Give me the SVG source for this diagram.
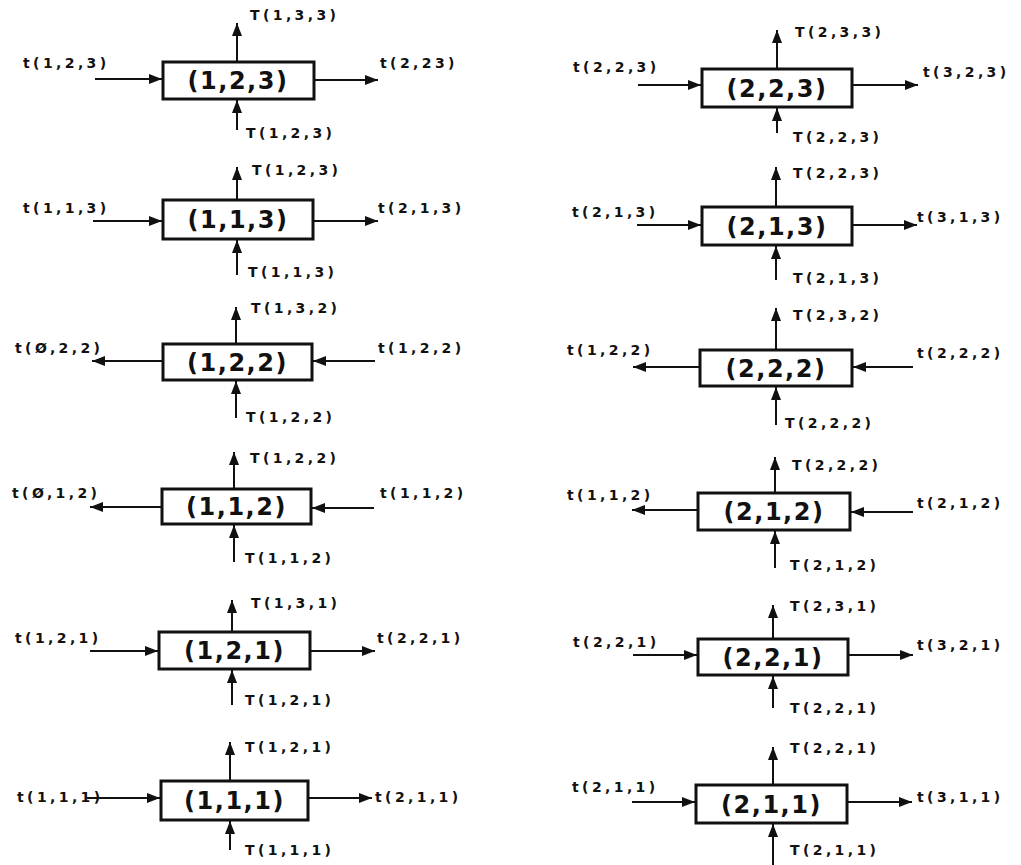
<svg xmlns="http://www.w3.org/2000/svg" width="1021" height="865" viewBox="0 0 1021 865">
<style>
.box{fill:#fff;stroke:#111;stroke-width:3}
.bt{font-family:"DejaVu Sans",sans-serif;font-weight:bold;font-size:24px;fill:#111;text-anchor:middle;letter-spacing:1.5px}
.lb{font-family:"DejaVu Sans",sans-serif;font-weight:bold;font-size:14px;fill:#111;letter-spacing:3.4px}
.c{fill:none;stroke:#111;stroke-width:2;marker-end:url(#ah)}
</style>
<defs>
<marker id="ah" markerUnits="userSpaceOnUse" markerWidth="13" markerHeight="10" refX="13" refY="5" orient="auto">
<path d="M0,0 L13,5 L0,10 z" fill="#111"/>
</marker>
</defs>
<rect width="1021" height="865" fill="#fff"/>
<g id="connectors">
<path class="c" d="M237,62 V23"/><path class="c" d="M237,130 V100"/><path class="c" d="M95,79 H162"/><path class="c" d="M314,80 H378"/>
<path class="c" d="M237,200 V167"/><path class="c" d="M237,275 V240"/><path class="c" d="M93,221 H162"/><path class="c" d="M313,221 H378"/>
<path class="c" d="M236,344 V307"/><path class="c" d="M236,418 V381"/><path class="c" d="M163,361 H92"/><path class="c" d="M375,361 H313"/>
<path class="c" d="M234,489 V452"/><path class="c" d="M234,562 V525"/><path class="c" d="M162,507 H90"/><path class="c" d="M374,508 H312"/>
<path class="c" d="M232,632 V600"/><path class="c" d="M232,705 V670"/><path class="c" d="M90,651 H158"/><path class="c" d="M310,651 H375"/>
<path class="c" d="M230,781 V742"/><path class="c" d="M230,850 V821"/><path class="c" d="M87,798 H160"/><path class="c" d="M308,798 H372"/>
<path class="c" d="M777,69 V30"/><path class="c" d="M777,133 V108"/><path class="c" d="M638,85 H701"/><path class="c" d="M852,85 H918"/>
<path class="c" d="M776,207 V167"/><path class="c" d="M776,280 V246"/><path class="c" d="M637,225 H701"/><path class="c" d="M852,225 H917"/>
<path class="c" d="M776,350 V308"/><path class="c" d="M776,425 V387"/><path class="c" d="M700,367 H633"/><path class="c" d="M913,367 H853"/>
<path class="c" d="M775,493 V457"/><path class="c" d="M775,568 V531"/><path class="c" d="M698,510 H632"/><path class="c" d="M913,512 H851"/>
<path class="c" d="M773,639 V605"/><path class="c" d="M773,708 V676"/><path class="c" d="M633,655 H697"/><path class="c" d="M848,655 H913"/>
<path class="c" d="M773,785 V747"/><path class="c" d="M773,865 V824"/><path class="c" d="M632,802 H695"/><path class="c" d="M847,802 H912"/>
</g>
<g id="n123"><rect class="box" x="163" y="62" width="151" height="37"/><text class="bt" x="238" y="89">(1,2,3)</text></g>
<g id="n113"><rect class="box" x="163" y="200" width="150" height="39"/><text class="bt" x="238" y="228">(1,1,3)</text></g>
<g id="n122"><rect class="box" x="163" y="344" width="149" height="36"/><text class="bt" x="237.5" y="370.5">(1,2,2)</text></g>
<g id="n112"><rect class="box" x="162" y="489" width="149" height="35"/><text class="bt" x="236.5" y="515">(1,1,2)</text></g>
<g id="n121"><rect class="box" x="159" y="632" width="151" height="37"/><text class="bt" x="234.5" y="659">(1,2,1)</text></g>
<g id="n111"><rect class="box" x="161" y="781" width="147" height="39"/><text class="bt" x="234.5" y="809">(1,1,1)</text></g>
<g id="n223"><rect class="box" x="702" y="69" width="150" height="38"/><text class="bt" x="777" y="96.5">(2,2,3)</text></g>
<g id="n213"><rect class="box" x="702" y="207" width="150" height="38"/><text class="bt" x="777" y="234.5">(2,1,3)</text></g>
<g id="n222"><rect class="box" x="700" y="350" width="152" height="36"/><text class="bt" x="776" y="376.5">(2,2,2)</text></g>
<g id="n212"><rect class="box" x="698" y="493" width="152" height="37"/><text class="bt" x="774" y="520">(2,1,2)</text></g>
<g id="n221"><rect class="box" x="698" y="639" width="150" height="36"/><text class="bt" x="773" y="665.5">(2,2,1)</text></g>
<g id="n211"><rect class="box" x="696" y="785" width="151" height="38"/><text class="bt" x="771.5" y="812.5">(2,1,1)</text></g>
<g id="labels">
<text class="lb" x="250" y="20">T(1,3,3)</text><text class="lb" x="246" y="138">T(1,2,3)</text><text class="lb" x="23" y="68">t(1,2,3)</text><text class="lb" x="380" y="68">t(2,23)</text>
<text class="lb" x="252" y="175">T(1,2,3)</text><text class="lb" x="248" y="277">T(1,1,3)</text><text class="lb" x="23" y="213">t(1,1,3)</text><text class="lb" x="378" y="213">t(2,1,3)</text>
<text class="lb" x="251" y="313">T(1,3,2)</text><text class="lb" x="246" y="422">T(1,2,2)</text><text class="lb" x="15" y="353">t(Ø,2,2)</text><text class="lb" x="378" y="353">t(1,2,2)</text>
<text class="lb" x="250" y="463">T(1,2,2)</text><text class="lb" x="245" y="563">T(1,1,2)</text><text class="lb" x="12" y="498">t(Ø,1,2)</text><text class="lb" x="380" y="498">t(1,1,2)</text>
<text class="lb" x="251" y="608">T(1,3,1)</text><text class="lb" x="245" y="705">T(1,2,1)</text><text class="lb" x="15" y="643">t(1,2,1)</text><text class="lb" x="377" y="643">t(2,2,1)</text>
<text class="lb" x="245" y="752">T(1,2,1)</text><text class="lb" x="245" y="855">T(1,1,1)</text><text class="lb" x="17" y="802">t(1,1,1)</text><text class="lb" x="375" y="802">t(2,1,1)</text>
<text class="lb" x="795" y="37">T(2,3,3)</text><text class="lb" x="793" y="142">T(2,2,3)</text><text class="lb" x="573" y="72">t(2,2,3)</text><text class="lb" x="923" y="77">t(3,2,3)</text>
<text class="lb" x="793" y="178">T(2,2,3)</text><text class="lb" x="793" y="283">T(2,1,3)</text><text class="lb" x="572" y="217">t(2,1,3)</text><text class="lb" x="917" y="222">t(3,1,3)</text>
<text class="lb" x="793" y="320">T(2,3,2)</text><text class="lb" x="785" y="428">T(2,2,2)</text><text class="lb" x="567" y="355">t(1,2,2)</text><text class="lb" x="917" y="358">t(2,2,2)</text>
<text class="lb" x="792" y="470">T(2,2,2)</text><text class="lb" x="790" y="570">T(2,1,2)</text><text class="lb" x="567" y="500">t(1,1,2)</text><text class="lb" x="917" y="508">t(2,1,2)</text>
<text class="lb" x="790" y="611">T(2,3,1)</text><text class="lb" x="790" y="713">T(2,2,1)</text><text class="lb" x="573" y="647">t(2,2,1)</text><text class="lb" x="917" y="650">t(3,2,1)</text>
<text class="lb" x="790" y="753">T(2,2,1)</text><text class="lb" x="790" y="855">T(2,1,1)</text><text class="lb" x="572" y="792">t(2,1,1)</text><text class="lb" x="917" y="802">t(3,1,1)</text>
</g>
</svg>
